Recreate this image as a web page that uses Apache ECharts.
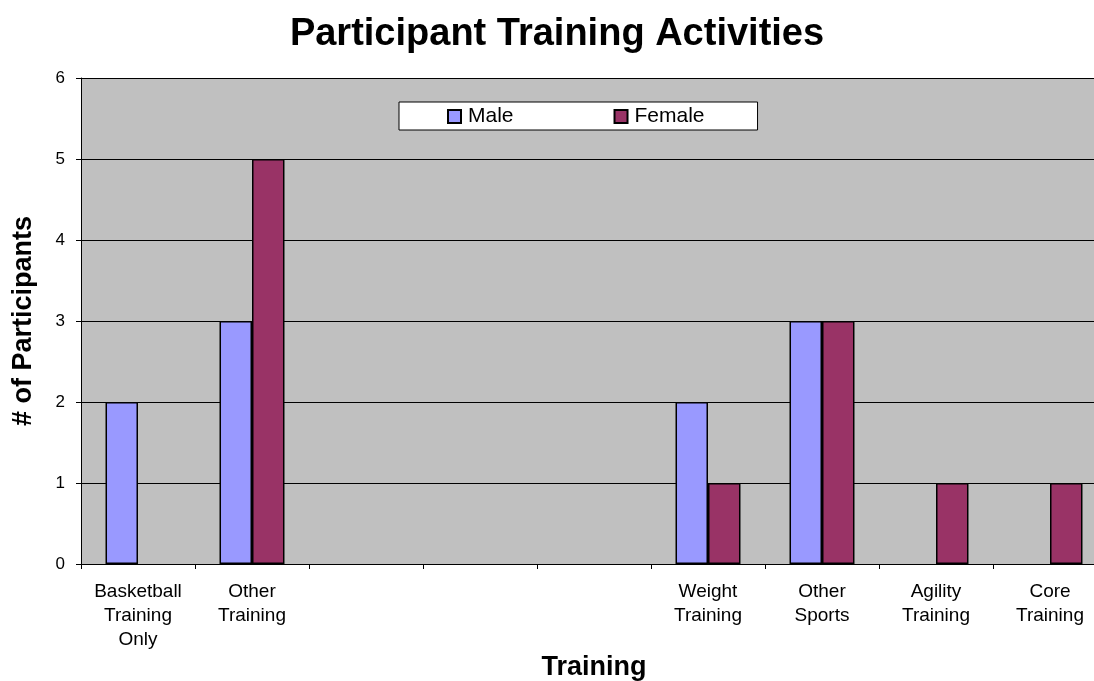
<!DOCTYPE html>
<html>
<head>
<meta charset="utf-8">
<title>Participant Training Activities</title>
<script src="https://cdn.jsdelivr.net/npm/echarts@6/dist/echarts.min.js"></script>
<style>
  html, body { margin: 0; padding: 0; background: #fff; }
  #chart { width: 1094px; height: 681px; }
</style>
</head>
<body>
<div id="chart"></div>
<script>
// Training categories (three slots carry no label)
const categories = [
  'Basketball\nTraining\nOnly',
  'Other\nTraining',
  '',
  '',
  '',
  'Weight\nTraining',
  'Other\nSports',
  'Agility\nTraining',
  'Core\nTraining'
];
// Participant counts per category (null = no bar)
const maleCounts = [2, 3, null, null, null, 2, 3, null, null];
const femaleCounts = [null, 5, null, null, null, 1, 3, 1, 1];
const seriesNames = ['Male', 'Female'];

const FONT = '"Liberation Sans", Arial, sans-serif';

const chart = echarts.init(document.getElementById('chart'), null, { renderer: 'canvas' });

chart.setOption({
  backgroundColor: '#ffffff',
  animation: false,
  title: {
    text: 'Participant Training Activities',
    left: 552,
    textAlign: 'center',
    top: 11,
    textStyle: { fontFamily: FONT, fontSize: 38, fontWeight: 'bold', color: '#000' }
  },
  legend: {
    data: seriesNames,
    left: 399,
    top: 102,
    orient: 'horizontal',
    backgroundColor: '#ffffff',
    borderColor: '#000',
    borderWidth: 1,
    padding: [4, 53, 3, 48],
    itemGap: 100,
    itemWidth: 13,
    itemHeight: 13,
    icon: 'rect',
    textStyle: { fontFamily: FONT, fontSize: 21, color: '#000', padding: [0, 0, 0, 2] }
  },
  grid: {
    left: 81,
    top: 78,
    right: -13,
    bottom: 117,
    show: true,
    backgroundColor: '#C0C0C0',
    borderWidth: 0,
    containLabel: false,
    outerBoundsMode: 'none'
  },
  xAxis: {
    type: 'category',
    data: categories,
    boundaryGap: true,
    name: 'Training',
    nameLocation: 'middle',
    nameGap: 90,
    nameMoveOverlap: false,
    nameTextStyle: { fontFamily: FONT, fontSize: 27, fontWeight: 'bold', color: '#000' },
    axisLine: { show: true, lineStyle: { color: '#000', width: 1 } },
    axisTick: { show: true, alignWithLabel: false, length: 5, lineStyle: { color: '#000' } },
    axisLabel: {
      interval: 0,
      margin: 16,
      fontFamily: FONT,
      fontSize: 19,
      lineHeight: 24,
      color: '#000'
    },
    splitLine: { show: false }
  },
  yAxis: {
    type: 'value',
    min: 0,
    max: 6,
    interval: 1,
    name: '# of Participants',
    nameLocation: 'middle',
    nameGap: 44,
    nameRotate: 90,
    nameMoveOverlap: false,
    nameTextStyle: { fontFamily: FONT, fontSize: 27, fontWeight: 'bold', color: '#000' },
    axisLine: { show: true, lineStyle: { color: '#000', width: 1 } },
    axisTick: { show: true, length: 5, lineStyle: { color: '#000' } },
    axisLabel: { margin: 16, fontFamily: FONT, fontSize: 17, color: '#000' },
    splitLine: { show: true, lineStyle: { color: '#000', width: 1 } }
  },
  series: [
    {
      name: seriesNames[0],
      type: 'bar',
      data: maleCounts,
      barGap: '0%',
      barCategoryGap: '43%',
      itemStyle: { color: '#9999FF', borderColor: '#000', borderWidth: 1.5 }
    },
    {
      name: seriesNames[1],
      type: 'bar',
      data: femaleCounts,
      barGap: '0%',
      barCategoryGap: '43%',
      itemStyle: { color: '#993366', borderColor: '#000', borderWidth: 1.5 }
    }
  ]
});
</script>
</body>
</html>
